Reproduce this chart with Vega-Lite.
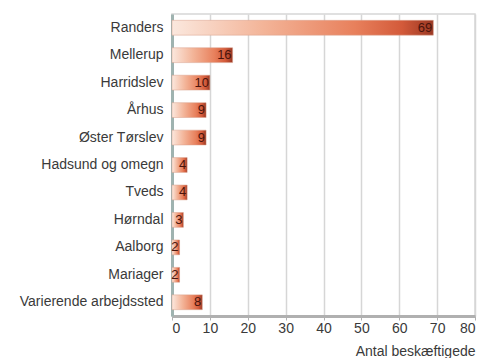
{
  "$schema": "https://vega.github.io/schema/vega-lite/v6.json",
  "autosize": {"type": "none"},
  "width": 303,
  "height": 302,
  "padding": {"left": 172, "top": 14, "right": 15, "bottom": 42},
  "background": "white",
  "config": {
    "font": "Liberation Sans",
    "view": {"stroke": "#d6d6d6", "strokeWidth": 1.5}
  },
  "data": {
    "values": [
      {"sted": "Randers", "antal": 69},
      {"sted": "Mellerup", "antal": 16},
      {"sted": "Harridslev", "antal": 10},
      {"sted": "Århus", "antal": 9},
      {"sted": "Øster Tørslev", "antal": 9},
      {"sted": "Hadsund og omegn", "antal": 4},
      {"sted": "Tveds", "antal": 4},
      {"sted": "Hørndal", "antal": 3},
      {"sted": "Aalborg", "antal": 2},
      {"sted": "Mariager", "antal": 2},
      {"sted": "Varierende arbejdssted", "antal": 8}
    ]
  },
  "encoding": {
    "y": {
      "field": "sted",
      "type": "nominal",
      "sort": null,
      "scale": {"paddingInner": 0.46, "paddingOuter": 0.23},
      "axis": {
        "title": null,
        "labelFont": "Liberation Sans",
        "labelFontSize": 14,
        "labelColor": "#3a3a3a",
        "labelPadding": 9,
        "ticks": false,
        "domainColor": "#9fb3b0",
        "domainWidth": 3
      }
    },
    "x": {
      "field": "antal",
      "type": "quantitative",
      "scale": {"domain": [0, 80], "nice": false},
      "axis": {
        "title": "Antal beskæftigede",
        "titleFont": "Liberation Sans",
        "titleFontSize": 14,
        "titleFontWeight": "normal",
        "titleColor": "#3a3a3a",
        "titleAnchor": "end",
        "titlePadding": 9,
        "values": [0, 10, 20, 30, 40, 50, 60, 70, 80],
        "labelFont": "Liberation Sans",
        "labelFontSize": 14,
        "labelColor": "#3a3a3a",
        "labelPadding": 1,
        "tickColor": "#b0b0b0",
        "tickSize": 4,
        "domainColor": "#b0b0b0",
        "domainWidth": 3,
        "gridColor": "#d6d6d6",
        "gridWidth": 1.5
      }
    }
  },
  "layer": [
    {
      "mark": {
        "type": "bar",
        "color": {
          "gradient": "linear",
          "x1": 0, "y1": 0, "x2": 1, "y2": 0,
          "stops": [
            {"offset": 0, "color": "#fbe8de"},
            {"offset": 0.35, "color": "#f3b498"},
            {"offset": 0.7, "color": "#e8805c"},
            {"offset": 0.88, "color": "#d35a3a"},
            {"offset": 1, "color": "#9a3722"}
          ]
        },
        "stroke": "#d9a08c",
        "strokeWidth": 0.5
      }
    },
    {
      "mark": {
        "type": "text",
        "align": "right",
        "baseline": "middle",
        "dx": -1,
        "font": "Liberation Sans",
        "fontSize": 13,
        "color": "#4a140c"
      },
      "encoding": {"text": {"field": "antal", "type": "quantitative"}}
    }
  ]
}
